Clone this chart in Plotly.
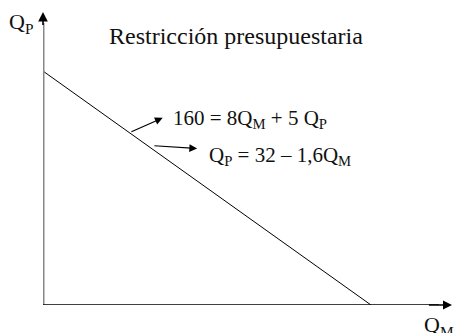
import plotly.graph_objects as go

# Budget constraint data
Q_M = [0, 20]
Q_P = [32, 0]
title_text = "Restricción presupuestaria"
eq1 = "160 = 8Q<sub>M</sub> + 5 Q<sub>P</sub>"
eq2 = "Q<sub>P</sub> = 32 – 1,6Q<sub>M</sub>"

FONT = "Liberation Serif"
XMAX = 24.94
YMAX = 40.08

fig = go.Figure()
fig.add_trace(go.Scatter(x=Q_M, y=Q_P, mode="lines",
                         line=dict(color="black", width=1), hoverinfo="skip"))

shapes = [
    dict(type="line", xref="x", yref="y", x0=0, y0=0, x1=0, y1=YMAX - 1.5,
         line=dict(color="#888888", width=3)),
    dict(type="line", xref="x", yref="y", x0=0, y0=0, x1=XMAX - 0.8, y1=0,
         line=dict(color="black", width=1.5)),
]

ann = []
# axis arrowheads
ann.append(dict(x=0, y=YMAX, ax=0, ay=YMAX - 2, xref="x", yref="y", axref="x", ayref="y",
                text="", showarrow=True, arrowhead=2, arrowsize=1.2, arrowwidth=1.6,
                arrowcolor="black"))
ann.append(dict(x=XMAX, y=0, ax=XMAX - 1.5, ay=0, xref="x", yref="y", axref="x", ayref="y",
                text="", showarrow=True, arrowhead=2, arrowsize=1.2, arrowwidth=1.5,
                arrowcolor="black"))
# equation arrows
ann.append(dict(x=7.3, y=25.6, ax=5.3, ay=23.6, xref="x", yref="y", axref="x", ayref="y",
                text="", showarrow=True, arrowhead=2, arrowsize=1.3, arrowwidth=1.2,
                arrowcolor="black"))
ann.append(dict(x=9.4, y=21.4, ax=6.7, ay=21.8, xref="x", yref="y", axref="x", ayref="y",
                text="", showarrow=True, arrowhead=2, arrowsize=1.3, arrowwidth=1.2,
                arrowcolor="black"))
# texts
ann.append(dict(x=171, y=333 - 119, xref="paper", yref="paper", text=eq1, showarrow=False,
                xanchor="left", yanchor="middle", font=dict(family=FONT, size=21, color="#111")))
ann.append(dict(x=207, y=333 - 156, xref="paper", yref="paper", text=eq2, showarrow=False,
                xanchor="left", yanchor="middle", font=dict(family=FONT, size=21, color="#111")))
ann.append(dict(x=236, y=333 - 36, xref="paper", yref="paper", text=title_text, showarrow=False,
                xanchor="center", yanchor="middle", font=dict(family=FONT, size=24, color="#111")))
ann.append(dict(x=21, y=333 - 23, xref="paper", yref="paper", text="Q<sub>P</sub>", showarrow=False,
                xanchor="center", yanchor="middle", font=dict(family=FONT, size=22, color="#111")))
ann.append(dict(x=439, y=333 - 326, xref="paper", yref="paper", text="Q<sub>M</sub>", showarrow=False,
                xanchor="center", yanchor="middle", font=dict(family=FONT, size=22, color="#111")))

# convert paper pixel coordinates to paper fractions
L, R, T, B = 43, 4, 12, 28
W, H = 456, 333
pw, ph = W - L - R, H - T - B
for a in ann:
    if a["xref"] == "paper":
        a["x"] = (a["x"] - L) / pw
        a["y"] = (a["y"] - B) / ph

fig.update_layout(
    width=W, height=H,
    margin=dict(l=L, r=R, t=T, b=B),
    paper_bgcolor="white", plot_bgcolor="white",
    showlegend=False,
    xaxis=dict(range=[0, XMAX], visible=False, fixedrange=True),
    yaxis=dict(range=[0, YMAX], visible=False, fixedrange=True),
    shapes=shapes, annotations=ann,
)
fig.write_html("out.html", config={"displayModeBar": False},
               post_script="document.body.style.margin='0';document.body.style.overflow='hidden';")
